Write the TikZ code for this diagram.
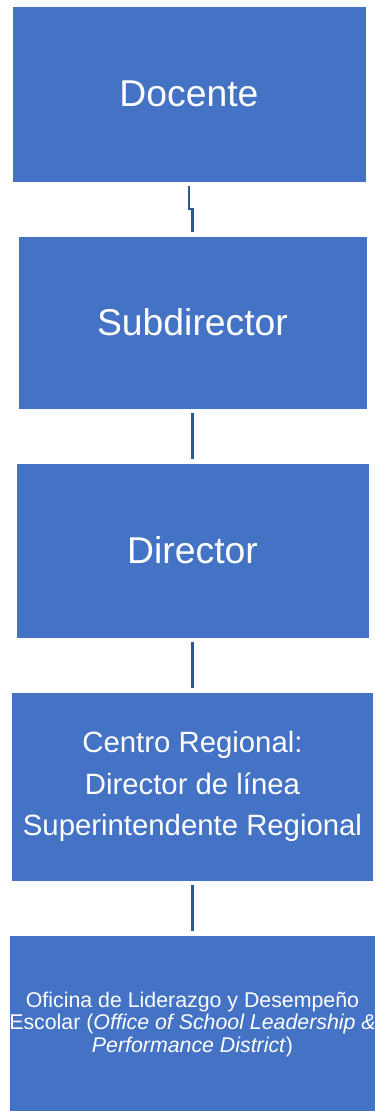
\documentclass[tikz,border=0pt]{standalone}
\usepackage{fontspec}
\setmainfont{Liberation Sans}
\usetikzlibrary{positioning}
\definecolor{boxblue}{HTML}{4472C4}
\definecolor{lineblue}{HTML}{2F5597}
\tikzset{
  levelbox/.style={rectangle, fill=boxblue, draw=white, line width=0.4pt, text=white, align=center, inner sep=0pt},
  conn/.style={draw=lineblue, line width=1.8pt, shorten <=2.5pt, shorten >=2.5pt}
}
\begin{document}
\begin{tikzpicture}[x=0.75pt, y=-0.75pt]

% Page
\useasboundingbox (0,0) rectangle (375,1111);

% Boxes
\node[levelbox, minimum width=354*0.75pt, minimum height=176*0.75pt, font=\fontsize{28}{33}\selectfont] (docente) at (189,94) {Docente};
\node[levelbox, minimum width=349*0.75pt, minimum height=173*0.75pt, font=\fontsize{28}{33}\selectfont] (subdirector) at (192.5,322.5) {Subdirector};
\node[levelbox, minimum width=353*0.75pt, minimum height=175*0.75pt, font=\fontsize{28}{33}\selectfont] (director) at (192.5,550.5) {Director};
\node[levelbox, minimum width=362*0.75pt, minimum height=189*0.75pt, font=\fontsize{22}{31.3}\selectfont] (regional) at (192.5,786.5) {Centro Regional:\\Director de línea\\Superintendente Regional};
\node[levelbox, minimum width=366*0.75pt, minimum height=178*0.75pt, font=\fontsize{16}{16.9}\selectfont] (oficina) at (192.5,1024) {Oficina de Liderazgo y Desempeño\\Escolar (\textit{Office of School Leadership \&}\\\textit{Performance District})};

% Connectors
\draw[conn] (docente.south) -- ++(0,27) -| (subdirector.north);
\draw[conn] (subdirector.south) -- (director.north);
\draw[conn] (director.south) -- (regional.north);
\draw[conn] (regional.south) -- (oficina.north);

\end{tikzpicture}
\end{document}
